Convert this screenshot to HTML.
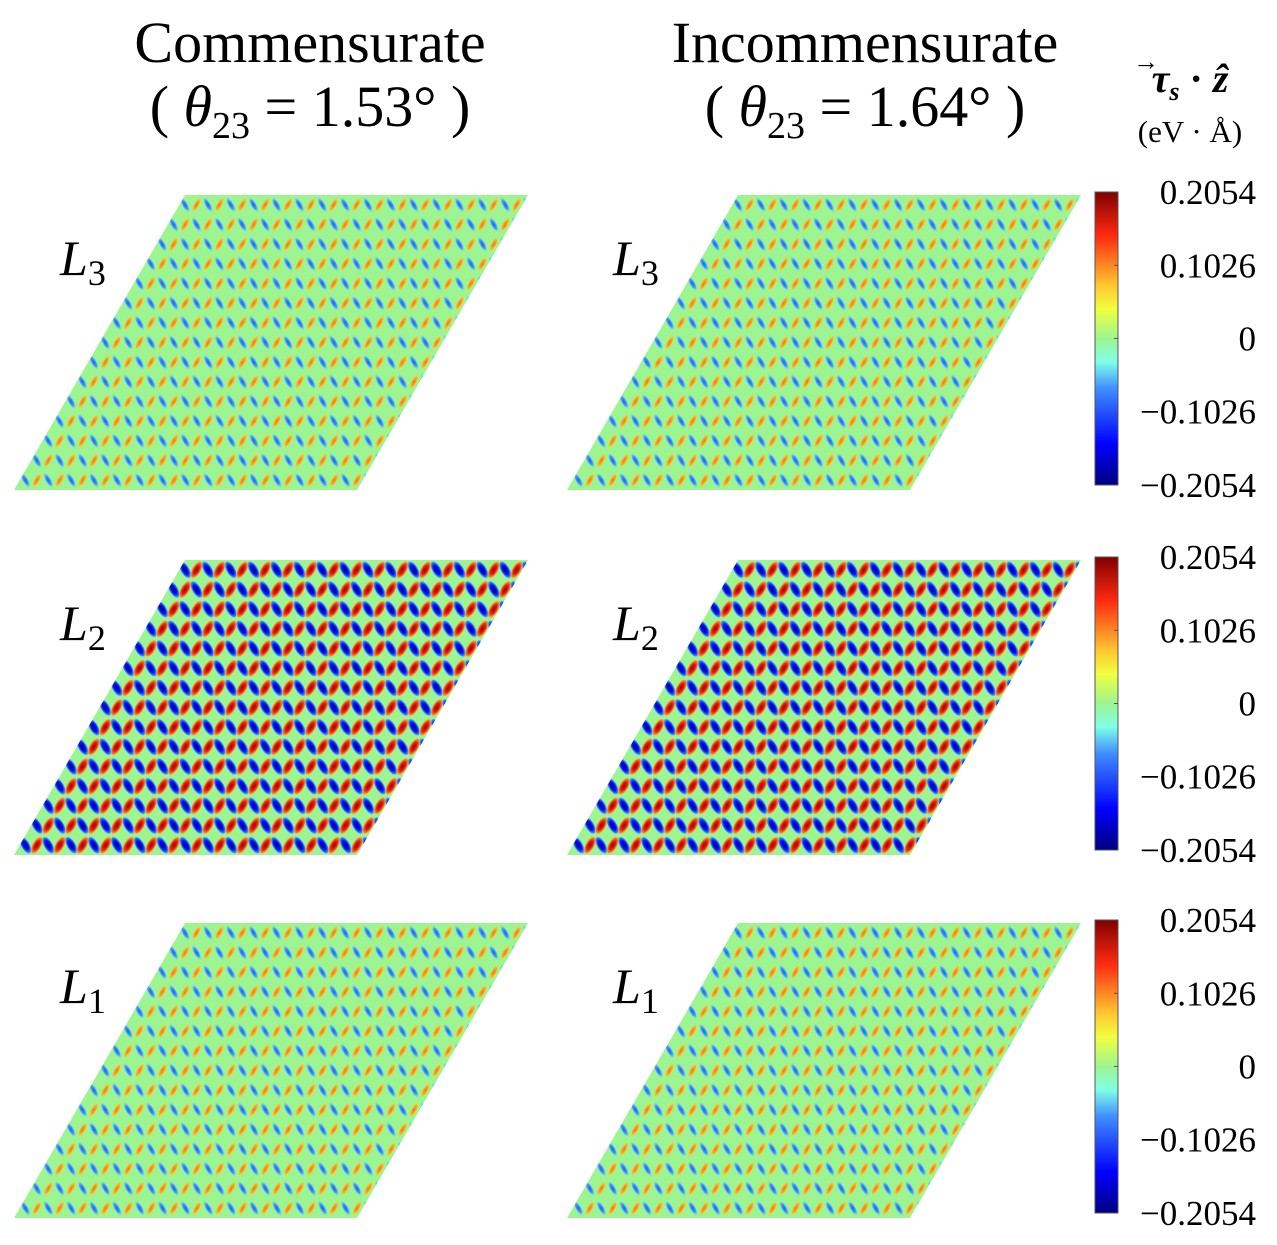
<!DOCTYPE html>
<html><head><meta charset="utf-8"><style>
body{margin:0;background:#fff;}
svg{display:block;font-family:"Liberation Serif",serif;}
</style></head><body>
<svg id="fig" width="1277" height="1245" viewBox="0 0 1277 1245">
<defs>
<linearGradient id="jet" x1="0" y1="1" x2="0" y2="0">
<stop offset="0" stop-color="#00007f"/><stop offset="0.14" stop-color="#0000ff"/>
<stop offset="0.33" stop-color="#3f8fff"/><stop offset="0.42" stop-color="#7fffe8"/>
<stop offset="0.5" stop-color="#9cf590"/><stop offset="0.6" stop-color="#f0ff40"/>
<stop offset="0.68" stop-color="#ffc830"/><stop offset="0.85" stop-color="#ff2a10"/>
<stop offset="1" stop-color="#800000"/></linearGradient>
<radialGradient id="gRedS"><stop offset="0" stop-color="#a00000"/><stop offset="0.5" stop-color="#e02010"/><stop offset="0.85" stop-color="#ff9030"/><stop offset="1" stop-color="#ffd040" stop-opacity="0"/></radialGradient>
<radialGradient id="gBlueS"><stop offset="0" stop-color="#000090"/><stop offset="0.5" stop-color="#0010f0"/><stop offset="0.85" stop-color="#4090ff"/><stop offset="1" stop-color="#80e0ff" stop-opacity="0"/></radialGradient>
<radialGradient id="gRedW"><stop offset="0" stop-color="#f07818"/><stop offset="0.55" stop-color="#ffa828"/><stop offset="1" stop-color="#f0f040" stop-opacity="0"/></radialGradient>
<radialGradient id="gBlueW"><stop offset="0" stop-color="#1860ff"/><stop offset="0.55" stop-color="#4898ff"/><stop offset="1" stop-color="#80f0e0" stop-opacity="0"/></radialGradient>
</defs>
<g id="panels"></g>
<g font-size="58" text-anchor="middle" fill="#000">
<text x="310" y="62">Commensurate</text>
<text x="310" y="126">( <tspan font-style="italic">θ</tspan><tspan font-size="38" dy="12">23</tspan><tspan dy="-12"> = 1.53° )</tspan></text>
<text x="865" y="62">Incommensurate</text>
<text x="865" y="126">( <tspan font-style="italic">θ</tspan><tspan font-size="38" dy="12">23</tspan><tspan dy="-12"> = 1.64° )</tspan></text>
</g>
<g text-anchor="middle">
<text x="1190" y="92" font-size="40" font-style="italic" font-weight="bold">τ<tspan font-size="26" dy="8">s</tspan><tspan dy="-8" font-style="normal"> · </tspan>ẑ</text>
<text x="1146" y="70" font-size="26" font-weight="bold">→</text>
<text x="1190" y="142" font-size="31">(eV · Å)</text>
</g>
</svg>
<script>
const layers = ["L3","L2","L1"];
const layerAmp = [0.35, 1.0, 0.35];
const tickValues = [0.2054, 0.1026, 0, -0.1026, -0.2054];
const tickLabels = ["0.2054","0.1026","0","\u22120.1026","\u22120.2054"];
const nCols = 15, nRows = 15;
const NS = "http://www.w3.org/2000/svg";
const svg = document.getElementById('panels');
function mk(t, a, p){const e=document.createElementNS(NS,t);for(const k in a)e.setAttribute(k,a[k]);(p||svg).appendChild(e);return e;}
const panelX = [14, 567], panelY = [490, 855, 1218], W = 343, H = 295, SH = 171;
const vmax = 0.2054;
layers.forEach((ln, r) => {
  [0,1].forEach(c => {
    const x0 = panelX[c], y0 = panelY[r];
    const g = mk('g', {});
    
    
    const id = 'clip' + r + c;
    const cp = mk('clipPath', {id}, g);
    const pts = `${x0},${y0} ${x0+W},${y0} ${x0+W+SH},${y0-H} ${x0+SH},${y0-H}`;
    mk('polygon', {points: pts}, cp);
    mk('polygon', {points: pts, fill: '#9cf590'}, g);
    const inner = mk('g', {'clip-path': `url(#${id})`}, g);
    const a = layerAmp[r];
    const strong = a > 0.6;
    const ax = W / nCols, bx = SH / nRows, by = -H / nRows;
    const rx = strong ? 4.6 : 3.2, ry = strong ? 10 : 9;
    for (let j = -1; j <= nRows; j++) for (let i = -1; i <= nCols; i++) {
      [0,1].forEach(s => {
        const cx = x0 + (i + 0.25 + s*0.5) * ax + (j + 0.5) * bx;
        const cy = y0 + (j + 0.5) * by;
        const e = mk('ellipse', {cx: cx.toFixed(1), cy: cy.toFixed(1), rx, ry,
          fill: s ? (strong ? 'url(#gRedS)' : 'url(#gRedW)') : (strong ? 'url(#gBlueS)' : 'url(#gBlueW)'),
          transform: `rotate(${s ? 30 : -30} ${cx.toFixed(1)} ${cy.toFixed(1)})`}, inner);
        
        
      });
    }
    const lab = mk('text', {x: x0 + 46, y: y0 - H + 80, 'font-size': 50, 'font-style': 'italic'}, g);
    
    
    lab.innerHTML = 'L<tspan font-style="normal" font-size="36" dy="10">' + ln[1] + '</tspan>';
  });
  const cbTop = panelY[r] - H - 3, cbH = 293, cbX = 1095, cbW = 23;
  const cb = mk('g', {});
  
  
  mk('rect', {x: cbX, y: cbTop, width: cbW, height: cbH, fill: 'url(#jet)', stroke: '#555', 'stroke-width': 1}, cb);
  tickValues.forEach((v, k) => {
    const y = cbTop + (vmax - v) / (2*vmax) * cbH;
    mk('line', {x1: cbX + cbW - 4, x2: cbX + cbW, y1: y, y2: y, stroke: '#555'}, cb);
    const t = mk('text', {x: 1256, y: y + 12, 'font-size': 35, 'text-anchor': 'end'}, cb);
    
    
    t.textContent = tickLabels[k];
  });
});
</script>
</body></html>
